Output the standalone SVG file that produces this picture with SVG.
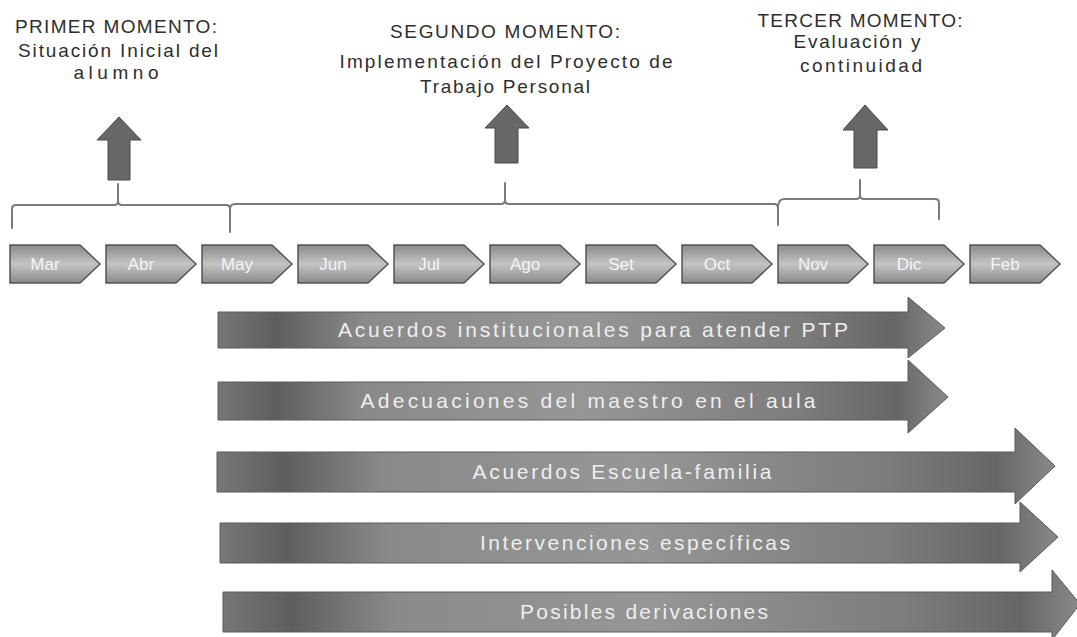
<svg xmlns="http://www.w3.org/2000/svg" xmlns:xlink="http://www.w3.org/1999/xlink" width="1077" height="637" viewBox="0 0 1077 637">
<style>
.title{font-family:"Liberation Sans",Arial,sans-serif;font-size:19px;fill:#2e2e2e;text-anchor:middle}
.mon{font-family:"Liberation Sans",Arial,sans-serif;font-size:17px;fill:#f4f4f4;text-anchor:middle}
.bt{font-family:"Liberation Sans",Arial,sans-serif;font-size:21px;fill:#eeeeee;text-anchor:middle}
.chev{fill:url(#gChev);stroke:#555;stroke-width:1.5}
.bar{fill:url(#gBar);stroke:#5a5a5a;stroke-width:1}
.up{fill:#676767;stroke:#4a4a4a;stroke-width:1}
.br{fill:none;stroke:#7a7a7a;stroke-width:2;stroke-linecap:round}
</style>
<defs>
<linearGradient id="gChev" x1="0" y1="0" x2="0" y2="1">
<stop offset="0" stop-color="#8a8a8a"/>
<stop offset="0.5" stop-color="#c4c4c4"/>
<stop offset="1" stop-color="#8a8a8a"/>
</linearGradient>
<linearGradient id="gBar" x1="0" y1="0" x2="1" y2="0">
<stop offset="0" stop-color="#777"/>
<stop offset="0.08" stop-color="#5e5e5e"/>
<stop offset="0.2" stop-color="#8a8a8a"/>
<stop offset="0.5" stop-color="#969696"/>
<stop offset="0.8" stop-color="#7c7c7c"/>
<stop offset="0.93" stop-color="#666"/>
<stop offset="1" stop-color="#8a8a8a"/>
</linearGradient>
<path id="chev" d="M0,245 H70 L90,264 L70,283 H0 Z"/>
</defs>
<rect width="1077" height="637" fill="#fff"/>

<g id="moment1">
<text class="title" x="116" y="33" textLength="202" lengthAdjust="spacing">PRIMER MOMENTO:</text>
<text class="title" x="118" y="57" textLength="200" lengthAdjust="spacing">Situación Inicial del</text>
<text class="title" x="116" y="79" textLength="85" lengthAdjust="spacing">alumno</text>
</g>
<g id="moment2">
<text class="title" x="505" y="38" textLength="230" lengthAdjust="spacing">SEGUNDO MOMENTO:</text>
<text class="title" x="506" y="68" textLength="333" lengthAdjust="spacing">Implementación del Proyecto de</text>
<text class="title" x="505" y="93" textLength="170" lengthAdjust="spacing">Trabajo Personal</text>
</g>
<g id="moment3">
<text class="title" x="860" y="27" textLength="205" lengthAdjust="spacing">TERCER MOMENTO:</text>
<text class="title" x="857" y="48" textLength="127" lengthAdjust="spacing">Evaluación y</text>
<text class="title" x="861" y="72" textLength="122" lengthAdjust="spacing">continuidad</text>
</g>

<g id="connectors">
<path class="up" d="M119,117 L141,140 L130,140 L130,180 L108,180 L108,140 L97,140 Z"/>
<path class="up" d="M507,105 L529,128 L518,128 L518,163 L495,163 L495,128 L485,128 Z"/>
<path class="up" d="M865,105 L888,130 L877,130 L877,168 L854,168 L854,130 L843,130 Z"/>
<path class="br" d="M12,228 V209 Q12,205 16,205 H114 Q118,205 118,201 V184 M118,201 Q118,205 122,205 H226 Q230,205 230,209 V232"/>
<path class="br" d="M230,209 Q230,204 235,204 H501 Q505,204 505,200 V183 M505,200 Q505,204 509,204 H774 Q778,204 778,208 V225"/>
<path class="br" d="M778,208 Q778,199 784,199 H856 Q860,199 860,195 V180 M860,195 Q860,199 864,199 H935 Q939,199 939,203 V219"/>
</g>

<g id="months">
<g id="m-mar"><use xlink:href="#chev" href="#chev" x="10" class="chev"/><text class="mon" x="45" y="270">Mar</text></g>
<g id="m-abr"><use xlink:href="#chev" href="#chev" x="106" class="chev"/><text class="mon" x="141" y="270">Abr</text></g>
<g id="m-may"><use xlink:href="#chev" href="#chev" x="202" class="chev"/><text class="mon" x="237" y="270">May</text></g>
<g id="m-jun"><use xlink:href="#chev" href="#chev" x="298" class="chev"/><text class="mon" x="333" y="270">Jun</text></g>
<g id="m-jul"><use xlink:href="#chev" href="#chev" x="394" class="chev"/><text class="mon" x="429" y="270">Jul</text></g>
<g id="m-ago"><use xlink:href="#chev" href="#chev" x="490" class="chev"/><text class="mon" x="525" y="270">Ago</text></g>
<g id="m-set"><use xlink:href="#chev" href="#chev" x="586" class="chev"/><text class="mon" x="621" y="270">Set</text></g>
<g id="m-oct"><use xlink:href="#chev" href="#chev" x="682" class="chev"/><text class="mon" x="717" y="270">Oct</text></g>
<g id="m-nov"><use xlink:href="#chev" href="#chev" x="778" class="chev"/><text class="mon" x="813" y="270">Nov</text></g>
<g id="m-dic"><use xlink:href="#chev" href="#chev" x="874" class="chev"/><text class="mon" x="909" y="270">Dic</text></g>
<g id="m-feb"><use xlink:href="#chev" href="#chev" x="970" class="chev"/><text class="mon" x="1005" y="270">Feb</text></g>
</g>

<g id="bar1">
<path class="bar" d="M218,312 H908 V297 L945,328 L908,358 V348 H218 Z"/>
<text class="bt" x="593" y="337" textLength="510" lengthAdjust="spacing">Acuerdos institucionales para atender PTP</text>
</g>
<g id="bar2">
<path class="bar" d="M218,382 H908 V360 L948,397 L908,433 V420 H218 Z"/>
<text class="bt" x="588" y="408" textLength="455" lengthAdjust="spacing">Adecuaciones del maestro en el aula</text>
</g>
<g id="bar3">
<path class="bar" d="M217,452 H1015 V428 L1055,466 L1015,504 V492 H217 Z"/>
<text class="bt" x="622" y="479" textLength="299" lengthAdjust="spacing">Acuerdos Escuela-familia</text>
</g>
<g id="bar4">
<path class="bar" d="M220,523 H1020 V502 L1058,537 L1020,572 V563 H220 Z"/>
<text class="bt" x="635" y="550" textLength="310" lengthAdjust="spacing">Intervenciones específicas</text>
</g>
<g id="bar5">
<path class="bar" d="M223,592 H1052 V570 L1080,604 L1052,640 V632 H223 Z"/>
<text class="bt" x="644" y="619" textLength="248" lengthAdjust="spacing">Posibles derivaciones</text>
</g>
</svg>
